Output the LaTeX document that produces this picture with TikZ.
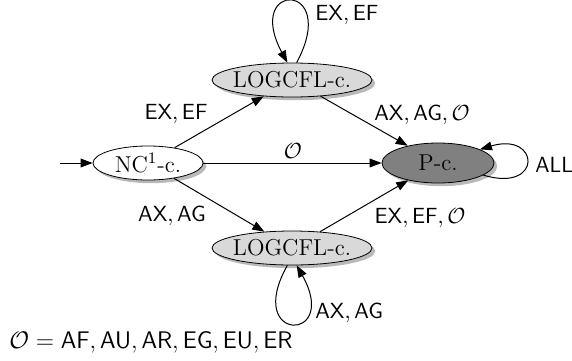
\documentclass[tikz,border=0pt]{standalone}
\usepackage{tikz}
\usetikzlibrary{arrows,arrows.meta}
\usetikzlibrary{shapes}
\usetikzlibrary{shadows}
\usepackage{amsmath}
\usepackage{amssymb}
\newcommand{\ctl}[1]{\mathsf{#1}}

\begin{document}
\begin{tikzpicture}[x=0.5pt,y=-0.5pt]
      \tikzstyle{state}=[ellipse,draw,inner sep=0pt,font=\fontsize{11.5}{14}\selectfont,
        drop shadow={opacity=0.55,shadow xshift=1.6pt,shadow yshift=-1.6pt}]
      \tikzstyle{lbl}=[font=\fontsize{11}{13}\selectfont\sffamily]
      \tikzstyle{edge}=[-{Triangle[length=6pt,width=4.4pt]},line width=0.5pt]
      \useasboundingbox (0,0) rectangle (572,360);

      \node[state,fill=white,minimum width=55pt,minimum height=17pt] (nc) at (148,163) {NC$^1$-c.};
      \node[state,fill=gray!30,inner xsep=-2pt,minimum width=80pt,minimum height=17pt] (top) at (292,80) {LOGCFL-c.};
      \node[state,fill=gray!30,inner xsep=-2pt,minimum width=80pt,minimum height=17pt] (bot) at (292,248) {LOGCFL-c.};
      \node[state,fill=gray,minimum width=56pt,minimum height=20pt] (p) at (438,163) {P-c.};
      \coordinate (start) at (60,163);

      \draw[edge] (start) -- (nc);
      \draw[edge] (nc) -- (top);
      \draw[edge] (nc) -- (p);
      \draw[edge] (nc) -- (bot);
      \draw[edge] (top) -- (p);
      \draw[edge] (bot) -- (p);
      \draw[edge] (top.75) .. controls +(44,-82) and +(-44,-82) .. (top.105);
      \draw[edge] (bot.255) .. controls +(-44,78) and +(44,78) .. (bot.285);
      \draw[edge] (p.-15) .. controls +(60,18) and +(60,-18) .. (p.18);

      \node[lbl,anchor=west,inner sep=0pt] (l1) at (315,15) {$\ctl{EX}, \ctl{EF}$};
      \node[lbl] (l2) at (176,114) {$\ctl{EX}, \ctl{EF}$};
      \node[lbl] (l3) at (422,115) {$\ctl{AX}, \ctl{AG}, \mathcal{O}$};
      \node[lbl] (l4) at (293,151) {$\mathcal{O}$};
      \node[lbl] (l5) at (172,216) {$\ctl{AX}, \ctl{AG}$};
      \node[lbl] (l6) at (420,218) {$\ctl{EX}, \ctl{EF}, \mathcal{O}$};
      \node[lbl,anchor=west,inner sep=0pt] (l7) at (315,313) {$\ctl{AX}, \ctl{AG}$};
      \node[lbl,anchor=west,inner sep=0pt] (l8) at (535,165) {ALL};
      \node[lbl,anchor=west,inner sep=0pt,font=\fontsize{11.5}{14}\selectfont\sffamily] (legend) at (9,342) {$\mathcal{O} = \ctl{AF}, \ctl{AU}, \ctl{AR}, \ctl{EG}, \ctl{EU}, \ctl{ER}$};
    \end{tikzpicture}
\end{document}
